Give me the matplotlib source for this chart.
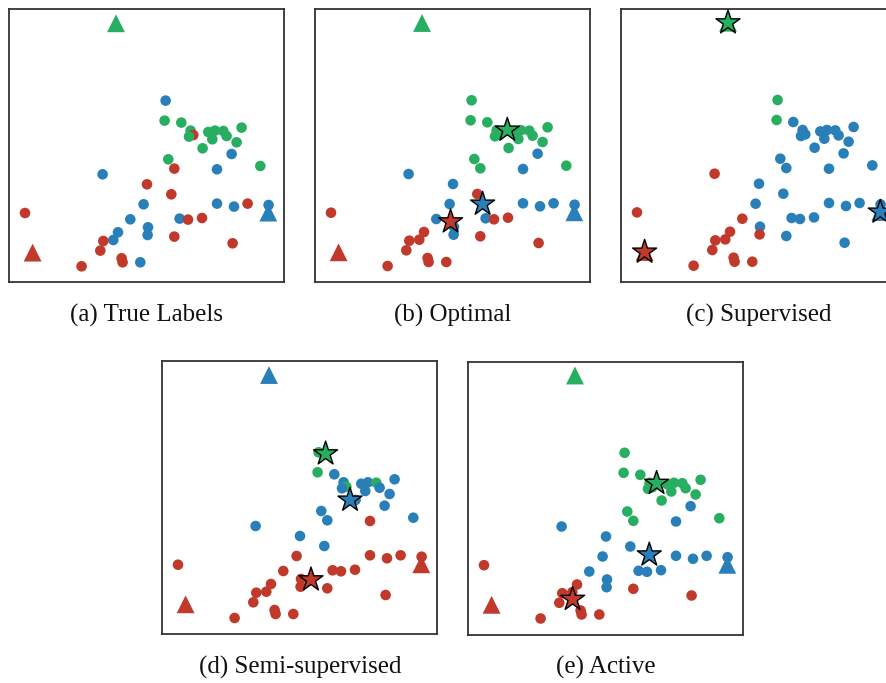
import matplotlib
matplotlib.use("Agg")
import matplotlib.pyplot as plt
import numpy as np

# ---- data (same points in every panel, coloured by the labels of each panel) ----
px = [156.3, 155.3, 172.0, 181.3, 184.0, 179.7, 199.0, 205.7, 214.0, 203.0,
      217.3, 232.3, 227.3, 193.3, 222.3, 159.0, 165.0, 207.7, 251.0, 93.3,
      137.7, 162.0, 134.3, 207.7, 224.7, 238.3, 259.3, 15.7, 121.0, 170.3,
      178.7, 192.7, 108.7, 138.7, 104.0, 94.0, 138.3, 165.0, 91.0, 223.3,
      112.3, 113.3, 131.0, 72.3]
py = [181.7, 161.7, 159.7, 151.7, 147.3, 145.7, 150.3, 151.7, 151.3, 143.0,
      146.3, 154.7, 140.0, 134.0, 128.3, 123.0, 113.7, 113.0, 116.3, 108.0,
      98.0, 88.0, 78.0, 78.7, 75.7, 78.7, 77.3, 69.3, 63.0, 63.7,
      62.7, 64.3, 50.0, 55.0, 42.3, 41.3, 47.3, 45.7, 31.7, 39.0,
      24.0, 20.0, 20.0, 16.0]

# labelled points (triangles)
tri_x = [106.7, 23.3, 259.0]
tri_y = [259.0, 29.7, 69.7]

# labels: R = red, G = green, B = blue
labels_a = list("BGGGRGGGGGGGGGBGRBGBRRBBBRBRBBRRBBBRBRRRRRBR")
labels_b = list("GGGGGGGGGGGGGGBGGBGBBRBBBBBRBBRRRBRRBRRRRRRR")
labels_c = list("GGBBBBBBBBBBBBBBBBBRBBBBBBBRRBBBRBRRRBRBRRRR")
labels_d = list("GGBBGBBBGBBBBBBBBRBBBBRRRRRRRRRRRRRRRRRRRRRR")
labels_e = list("GGGGGGGGGGGGGGBGGBGBBBBBBBBRBBBBRBRRBRRRRRRR")

tri_labels_a = list("GRB")
tri_labels_b = list("GRB")
tri_labels_c = list("GRB")
tri_labels_d = list("BRR")
tri_labels_e = list("GRB")

# cluster centres (stars): order red, green, blue
star_b = ([135.3, 192.0, 167.3], [60.3, 152.0, 78.0])
star_c = ([23.3, 106.7, 259.0], [29.7, 259.0, 69.7])
star_d = ([148.7, 163.3, 187.7], [54.3, 180.3, 134.0])
star_e = ([104.3, 188.3, 181.0], [35.3, 151.3, 79.7])

captions = ["(a) True Labels", "(b) Optimal", "(c) Supervised",
            "(d) Semi-supervised", "(e) Active"]

# ---- style ----
COL = {"R": "#c0392b", "G": "#27ae60", "B": "#2980b9"}
STAR_ORDER = ["R", "G", "B"]

W, H = 886, 683
fig = plt.figure(figsize=(W / 100, H / 100), dpi=100)

# axes boxes in pixels: left, top, width, height
boxes = [(9.3, 9.3, 275, 273), (315.3, 9.0, 275, 273), (621.3, 8.7, 275, 273),
         (162.3, 361.0, 275, 273), (468.3, 361.5, 275, 273)]
caption_y = [315, 315, 315, 667, 667]

panels = [
    (labels_a, tri_labels_a, None),
    (labels_b, tri_labels_b, star_b),
    (labels_c, tri_labels_c, star_c),
    (labels_d, tri_labels_d, star_d),
    (labels_e, tri_labels_e, star_e),
]

for (lab, tlab, star), (l, t, w, h), cap, cy in zip(panels, boxes, captions, caption_y):
    ax = fig.add_axes([l / W, (H - t - h) / H, w / W, h / H])
    ax.scatter(px, py, c=[COL[k] for k in lab], s=58, linewidths=0, zorder=2)
    ax.scatter(tri_x, tri_y, c=[COL[k] for k in tlab], marker="^", s=165,
               linewidths=0, zorder=3)
    if star is not None:
        ax.scatter(star[0], star[1], c=[COL[k] for k in STAR_ORDER], marker="*",
                   s=330, edgecolors="black", linewidths=1.0, zorder=4)
    ax.set_xlim(0, 275)
    ax.set_ylim(0, 273)
    ax.set_xticks([])
    ax.set_yticks([])
    for sp in ax.spines.values():
        sp.set_color("#333333")
        sp.set_linewidth(1.3)
    fig.text((l + w / 2) / W, 1 - cy / H, cap, ha="center", va="center",
             fontsize=18, family="Liberation Serif", color="#111111")

fig.savefig("out.png", dpi=100)
